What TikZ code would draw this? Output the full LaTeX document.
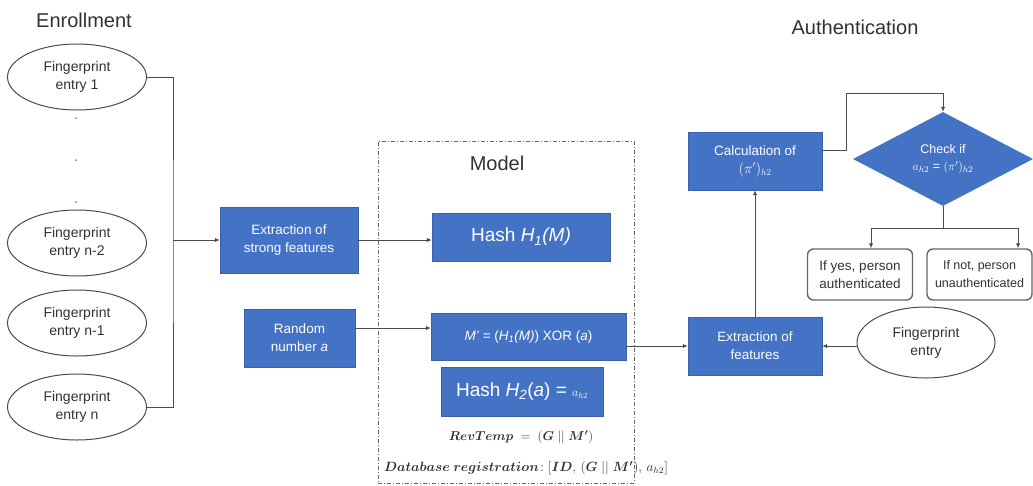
\documentclass[tikz,border=0pt]{standalone}
\usepackage{amsmath}
\usepackage{graphicx}
\usepackage{fontspec}
\setmainfont{Liberation Sans}
\usetikzlibrary{shapes.geometric,arrows.meta}
\definecolor{boxblue}{RGB}{68,114,196}
\definecolor{linegray}{RGB}{75,75,75}
\definecolor{txtgray}{RGB}{50,50,50}
\tikzset{
  bluebox/.style={rectangle, fill=boxblue, draw=boxblue!85!black, text=white, align=center,
    font=\fontsize{13.5}{18}\selectfont, inner sep=0pt},
  entry/.style={ellipse, draw=linegray, line width=1, align=center, text=txtgray,
    font=\fontsize{14}{18}\selectfont, inner sep=0pt, minimum width=139, minimum height=66},
  result/.style={rectangle, rounded corners=6, draw=black!60, line width=1.4, align=center,
    text=txtgray, font=\fontsize{13.5}{18}\selectfont, inner sep=0pt, minimum width=105, minimum height=51},
  conn/.style={draw=linegray, line width=1},
  arr/.style={conn, -{Latex[length=5,width=4.5]}},
  heading/.style={text=txtgray, font=\fontsize{20}{24}\selectfont},
  modelframe/.style={draw=black!60, line width=0.8, dash pattern=on 4pt off 2pt on 1pt off 2pt},
  mathline/.style={text=txtgray, font=\fontsize{12}{15}\selectfont}
}
\begin{document}
\begin{tikzpicture}[x=1pt,y=-1pt]
\useasboundingbox[fill=white] (0,0) rectangle (1033,485);

% titles
\node[heading] (tenr) at (84,20) {Enrollment};
\node[heading] (tauth) at (855,27) {Authentication};

% enrollment entries
\node[entry] (e1) at (77,77) {Fingerprint\\entry 1};
\node[entry] (e2) at (77,243) {Fingerprint\\entry n-2};
\node[entry] (e3) at (77,323) {Fingerprint\\entry n-1};
\node[entry] (en) at (77,407) {Fingerprint\\entry n};
\foreach \yy in {118,160,202} \fill[black!50] (76,\yy) circle (1);

% bus
\coordinate (bus) at (173,240);
\draw[conn] (e1.east) -| (bus) |- (en.east);

% enrollment boxes
\node[bluebox, minimum width=138, minimum height=66] (ext) at (289,240) {Extraction of\\strong features};
\node[bluebox, minimum width=111, minimum height=58] (rnd) at (299.5,338) {Random\\number \textit{a}};
\draw[arr] (bus) -- (ext.west |- bus);

% model
\node[modelframe, minimum width=256, minimum height=342, inner sep=0pt] (model) at (506,312) {};
\node[heading] (tmodel) at (497,163) {Model};
\node[bluebox, minimum width=178, minimum height=48, font=\fontsize{19}{22}\selectfont] (h1) at (521,237)
  {Hash \textit{H\textsubscript{1}(M)}};
\node[bluebox, minimum width=195, minimum height=47] (mp) at (528.5,336.5)
  {\textit{M'} = (\textit{H\textsubscript{1}(M)}) XOR (\textit{a})};
\node[bluebox, minimum width=162, minimum height=49, font=\fontsize{19}{22}\selectfont] (h2) at (522,391.5)
  {Hash \textit{H\textsubscript{2}}(\textit{a}) = {\fontsize{12}{14}\selectfont$a_{h2}$}};
\node[mathline] (rev) at (521,437) {\scalebox{1.075}{$\boldsymbol{RevTemp} \;=\; (\boldsymbol{G}\;||\;\boldsymbol{M'})$}};
\node[mathline] (db) at (526,468) {\scalebox{1.12}{$\boldsymbol{Database\ registration}\!: [\boldsymbol{ID},\,(\boldsymbol{G}\;||\;\boldsymbol{M'}),\,a_{h2}]$}};

\draw[arr] (ext.east) -- (ext.east -| h1.west);
\draw[arr] (rnd.east |- 0,328) -- (mp.west |- 0,328);

% authentication
\node[bluebox, minimum width=134, minimum height=58] (ef) at (755,346) {Extraction of\\features};
\node[bluebox, minimum width=134, minimum height=58] (calc) at (755,161) {Calculation of\\$(\pi')_{h2}$};
\node[entry, minimum width=138, minimum height=71] (fe) at (926,342.5) {Fingerprint\\entry};
\node[diamond, fill=boxblue, text=white, align=center, minimum width=180, minimum height=94, inner sep=0pt,
  aspect=1.9, font=\fontsize{12.5}{17}\selectfont] (dia) at (943,159) {Check if\\$a_{h2}$ = $(\pi')_{h2}$};
\node[result] (yes) at (860,274.5) {If yes, person\\authenticated};
\node[result, font=\fontsize{12.5}{18}\selectfont] (no) at (979.5,274.5) {If not, person\\unauthenticated};

\draw[arr] (mp.east |- ef.west) -- (ef.west);
\draw[arr] (fe.west |- ef.east) -- (ef.east);
\draw[arr] (ef.north) -- (calc.south);
\coordinate (up) at (846,93);
\draw[arr] (calc.east |- 0,150) -| (up) -| (dia.north);
\coordinate (split) at (943,228);
\coordinate (ya) at (871,228);
\coordinate (na) at (1018,228);
\draw[conn] (dia.south) -- (split);
\draw[arr] (split) -- (ya) -- (ya |- yes.north);
\draw[arr] (split) -- (na) -- (na |- no.north);
\end{tikzpicture}
\end{document}
